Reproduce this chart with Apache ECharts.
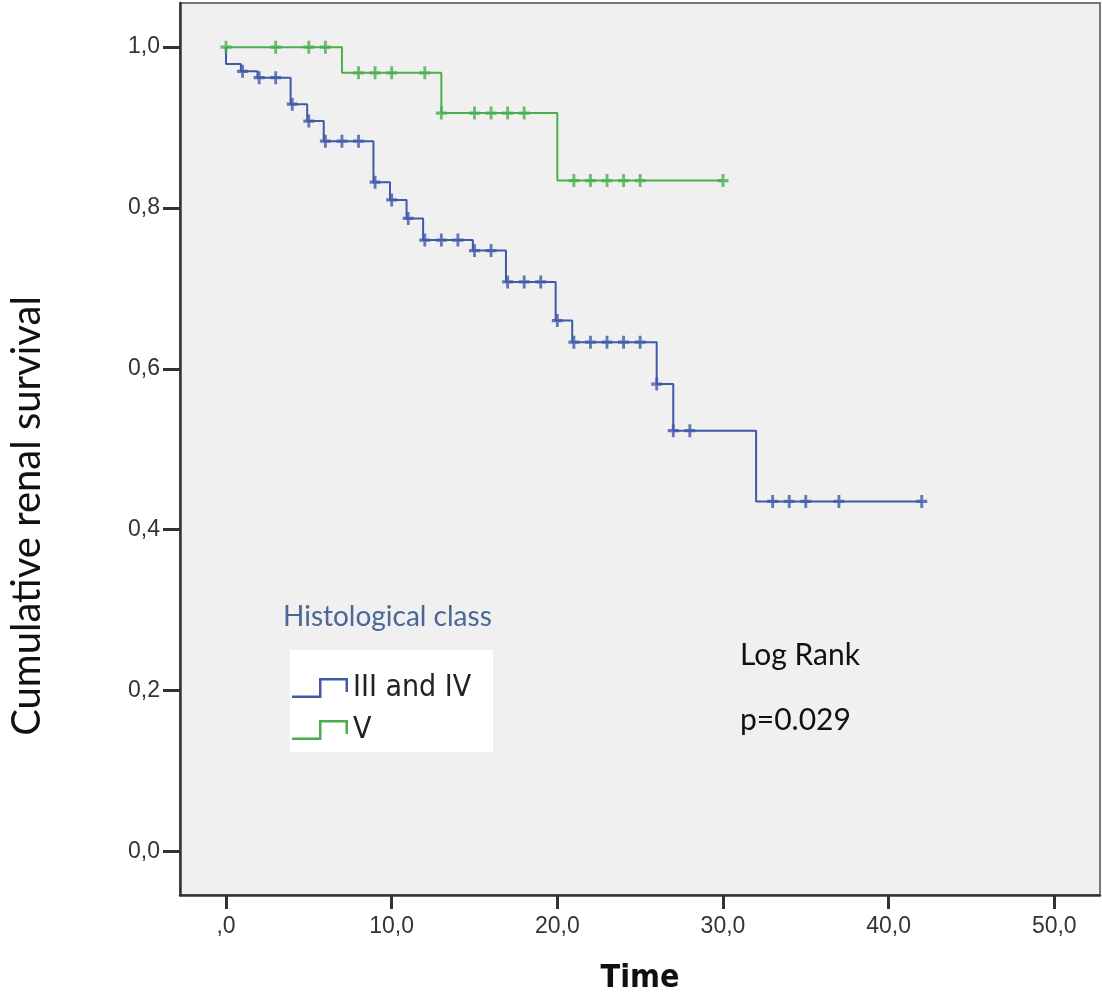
<!DOCTYPE html>
<html>
<head>
<meta charset="utf-8">
<script src="https://cdn.jsdelivr.net/npm/echarts@6/dist/echarts.min.js"></script>
<style>
  html, body { margin: 0; padding: 0; background: #fff; }
  #chart { width: 1102px; height: 1000px; }
</style>
</head>
<body>
<div id="chart"></div>
<script>
// Kaplan-Meier steps: time of event and survival right after it
var groupNames = ["III and IV", "V"];

var stepTimes34 = [0, 0, 0.9, 1.9, 3.9, 4.9, 5.9, 8.9, 9.9, 10.9, 11.9, 14.9, 16.9, 19.9, 20.9, 26, 27, 32, 42];
var survival34 = [1, 0.979, 0.970, 0.962, 0.929, 0.908, 0.883, 0.832, 0.810, 0.787, 0.760, 0.747, 0.708, 0.660, 0.633, 0.581, 0.523, 0.435, 0.435];
var censored34 = [1, 2, 3, 4, 5, 6, 7, 8, 9, 10, 11, 12, 13, 14, 15, 16, 17, 18, 19, 20, 21, 22, 23, 24, 25, 26, 27, 28, 33, 34, 35, 37, 42];

var stepTimes5 = [0, 7, 13, 20, 30];
var survival5 = [1, 0.968, 0.918, 0.834, 0.834];
var censored5 = [0, 3, 5, 6, 8, 9, 10, 12, 13, 15, 16, 17, 18, 21, 22, 23, 24, 25, 30];

var xTicks = [0, 10, 20, 30, 40, 50];
var yTicks = [0, 0.2, 0.4, 0.6, 0.8, 1.0];

var COLOR_34 = "#3f5aa8";
var COLOR_5 = "#4aae4f";
var NARROW = "'Liberation Sans Narrow', 'Arial Narrow', 'DejaVu Sans Condensed', sans-serif";

function curve(times, surv) {
  return times.map(function (t, i) { return [t, surv[i]]; });
}
function survAt(times, surv, t) {
  var v = 1;
  for (var i = 0; i < times.length; i++) {
    if (times[i] <= t) v = surv[i];
  }
  return v;
}
function marks(cens, times, surv) {
  return cens.map(function (c) { return [c, survAt(times, surv, c)]; });
}

var plus = "path://M-1.3,-6 H1.3 V-1.5 H5 V1.5 H1.3 V6 H-1.3 V1.5 H-5 V-1.5 H-1.3 Z";
var stepIcon = "path://M0,17.5 H27 V0 H56 V14 H53.5 V2.5 H29.5 V20 H0 Z";

function comma(v) {
  if (v === 0) return ",0";
  return v.toFixed(1).replace(".", ",");
}

var myChart = echarts.init(document.getElementById("chart"));
myChart.setOption({
  animation: false,
  backgroundColor: "#fff",
  title: {
    text: "Histological class",
    left: 283,
    top: 603,
    padding: 0,
    textStyle: { fontFamily: "Lato, sans-serif", fontSize: 28, fontWeight: "normal", color: "#4a6796" }
  },
  grid: {
    left: 180, top: 3, right: 2, bottom: 102,
    show: true,
    backgroundColor: "#f0f0f0",
    borderColor: "#777",
    borderWidth: 2
  },
  xAxis: {
    type: "value",
    min: -2.777,
    max: 52.76,
    name: "Time",
    nameLocation: "middle",
    nameGap: 68,
    nameTextStyle: { fontFamily: NARROW, fontSize: 32, fontWeight: "bold", color: "#111" },
    axisLine: { show: true, onZero: false, lineStyle: { color: "#333", width: 2.5 } },
    axisTick: { show: true, length: 14, customValues: xTicks, lineStyle: { color: "#333", width: 3 } },
    axisLabel: {
      customValues: xTicks, margin: 20, formatter: comma,
      fontFamily: "'Liberation Sans', Arial, sans-serif", fontSize: 23, color: "#333"
    },
    splitLine: { show: false }
  },
  yAxis: {
    type: "value",
    min: -0.0545,
    max: 1.0549,
    axisLine: { show: true, onZero: false, lineStyle: { color: "#333", width: 2.5 } },
    axisTick: { show: true, length: 17, customValues: yTicks, lineStyle: { color: "#333", width: 3 } },
    axisLabel: {
      customValues: yTicks, margin: 20,
      formatter: function (v) { return v.toFixed(1).replace(".", ","); },
      fontFamily: "'Liberation Sans', Arial, sans-serif", fontSize: 23, color: "#333"
    },
    splitLine: { show: false }
  },
  legend: {
    data: groupNames,
    orient: "vertical",
    left: 292,
    top: 670,
    padding: 0,
    itemWidth: 56,
    itemHeight: 20,
    itemGap: 6,
    icon: stepIcon,
    itemStyle: { borderWidth: 0 },
    textStyle: { fontFamily: NARROW, fontSize: 30, lineHeight: 36, color: "#222" },
    selectedMode: false
  },
  graphic: [
    { type: "rect", z: 1, shape: { x: 290, y: 650, width: 203, height: 102 }, style: { fill: "#fff" } },
    {
      type: "text", z: 5, x: 27, y: 516, rotation: Math.PI / 2,
      style: { text: "Cumulative renal survival", fill: "#111", font: "40px Lato, sans-serif", align: "center", verticalAlign: "middle" }
    },
    { type: "text", z: 5, x: 740, y: 655, style: { text: "Log Rank", fill: "#111", font: "30px Lato, sans-serif", verticalAlign: "middle" } },
    { type: "text", z: 5, x: 740, y: 720, style: { text: "p=0.029", fill: "#111", font: "30px Lato, sans-serif", verticalAlign: "middle" } }
  ],
  series: [
    {
      name: groupNames[0], type: "line", step: "end",
      data: curve(stepTimes34, survival34),
      showSymbol: false, color: COLOR_34,
      lineStyle: { color: COLOR_34, width: 2 },
      emphasis: { disabled: true }, silent: true
    },
    {
      name: groupNames[1], type: "line", step: "end",
      data: curve(stepTimes5, survival5),
      showSymbol: false, color: COLOR_5,
      lineStyle: { color: COLOR_5, width: 2 },
      emphasis: { disabled: true }, silent: true
    },
    {
      name: "censored III and IV", type: "scatter",
      data: marks(censored34, stepTimes34, survival34),
      symbol: plus, symbolSize: [11, 13],
      itemStyle: { color: COLOR_34 }, z: 3, silent: true
    },
    {
      name: "censored V", type: "scatter",
      data: marks(censored5, stepTimes5, survival5),
      symbol: plus, symbolSize: [11, 13],
      itemStyle: { color: COLOR_5 }, z: 3, silent: true
    }
  ]
});
</script>
</body>
</html>
